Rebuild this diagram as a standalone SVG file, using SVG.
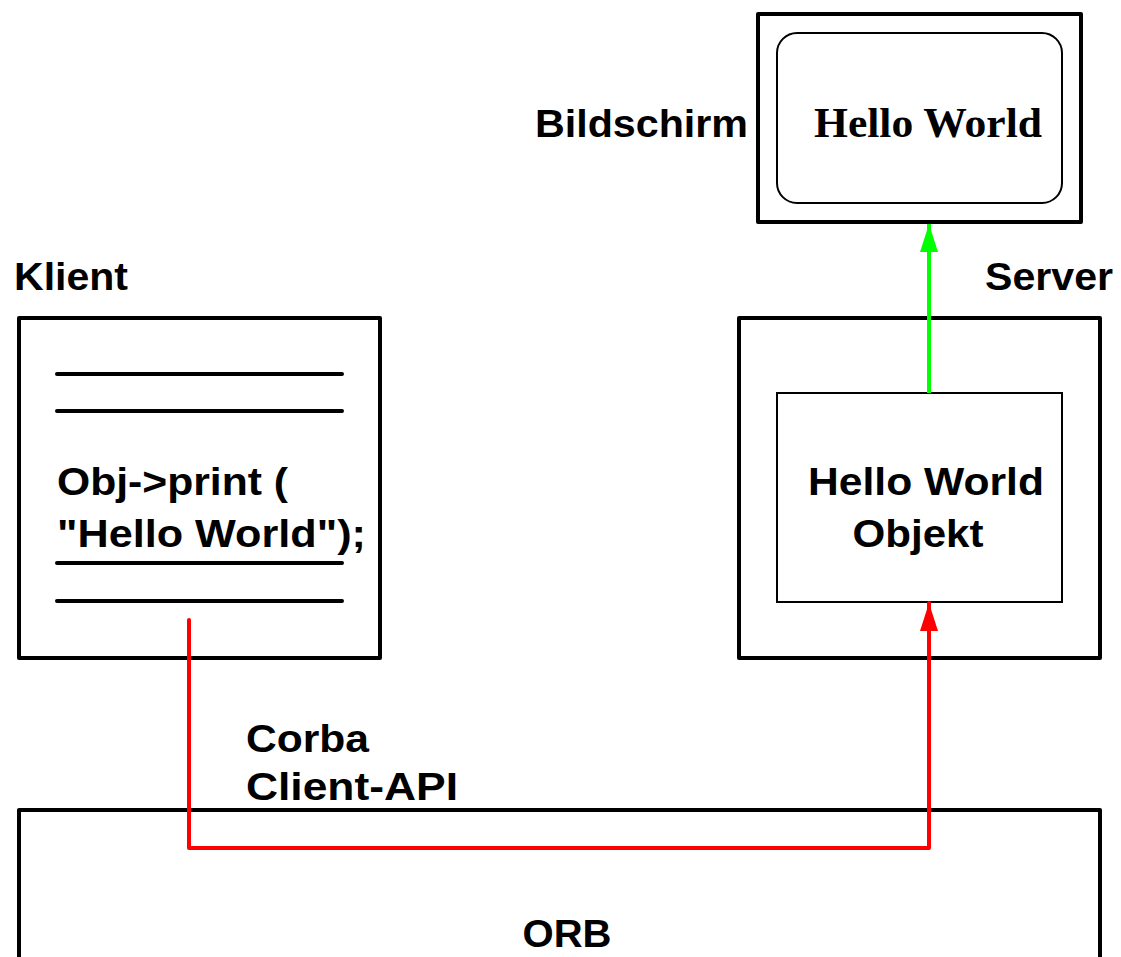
<svg xmlns="http://www.w3.org/2000/svg" width="1121" height="957" viewBox="0 0 1121 957">
<style>
.box{fill:#fff;stroke:#000;stroke-width:4;stroke-linejoin:round}
.thin{fill:#fff;stroke:#000;stroke-width:2}
.t{font-family:"Liberation Sans",Arial,sans-serif;font-weight:bold;font-size:38px;fill:#000}
.s{font-family:"Liberation Serif","Times New Roman",serif;font-weight:bold;font-size:43px;fill:#000}
.ln{stroke:#000;stroke-width:4;stroke-linecap:round}
</style>
<defs>
<marker id="ag" viewBox="0 0 28 18" refX="28" refY="9" markerUnits="userSpaceOnUse" markerWidth="28" markerHeight="18" orient="auto"><path d="M0,0 L28,9 L0,18 z" fill="#0f0"/></marker>
<marker id="ar2" viewBox="0 0 28 18" refX="28" refY="9" markerUnits="userSpaceOnUse" markerWidth="28" markerHeight="18" orient="auto"><path d="M0,0 L28,9 L0,18 z" fill="#f00"/></marker>
</defs>
<g id="orb">
<rect class="box" x="19" y="810" width="1081" height="160"/>
<text class="t" x="567" y="947" text-anchor="middle" textLength="89" lengthAdjust="spacingAndGlyphs">ORB</text>
</g>
<g id="bildschirm">
<rect class="box" x="758" y="14" width="323" height="208"/>
<rect class="thin" x="777" y="33" width="285" height="170" rx="20"/>
<text class="s" x="928" y="137" text-anchor="middle" textLength="228" lengthAdjust="spacingAndGlyphs">Hello World</text>
<text class="t" x="535" y="137" textLength="213" lengthAdjust="spacingAndGlyphs">Bildschirm</text>
</g>
<g id="klient">
<text class="t" x="14" y="290" textLength="114" lengthAdjust="spacingAndGlyphs">Klient</text>
<rect class="box" x="19" y="318" width="361" height="340"/>
<line class="ln" x1="57" y1="374" x2="342" y2="374"/>
<line class="ln" x1="57" y1="411" x2="342" y2="411"/>
<line class="ln" x1="57" y1="563" x2="342" y2="563"/>
<line class="ln" x1="57" y1="601" x2="342" y2="601"/>
<text class="t" x="57" y="495" textLength="231" lengthAdjust="spacingAndGlyphs">Obj-&gt;print (</text>
<text class="t" x="57" y="547" textLength="309" lengthAdjust="spacingAndGlyphs">"Hello World");</text>
</g>
<g id="server">
<text class="t" x="985" y="290" textLength="128" lengthAdjust="spacingAndGlyphs">Server</text>
<rect class="box" x="739" y="318" width="361" height="340"/>
<rect class="thin" x="777" y="393" width="285" height="209"/>
<text class="t" x="926" y="495" text-anchor="middle" textLength="236" lengthAdjust="spacingAndGlyphs">Hello World</text>
<text class="t" x="918" y="547" text-anchor="middle" textLength="131" lengthAdjust="spacingAndGlyphs">Objekt</text>
</g>
<g id="api-label">
<text class="t" x="246" y="752" textLength="123" lengthAdjust="spacingAndGlyphs">Corba</text>
<text class="t" x="246" y="800" textLength="212" lengthAdjust="spacingAndGlyphs">Client-API</text>
</g>
<g id="connectors" fill="none">
<line x1="929" y1="393" x2="929" y2="224" stroke="#0f0" stroke-width="4" marker-end="url(#ag)"/>
<polyline points="189,620 189,848 929,848 929,603" stroke="#f00" stroke-width="4" stroke-linejoin="round" stroke-linecap="round" marker-end="url(#ar2)"/>
</g>
</svg>
